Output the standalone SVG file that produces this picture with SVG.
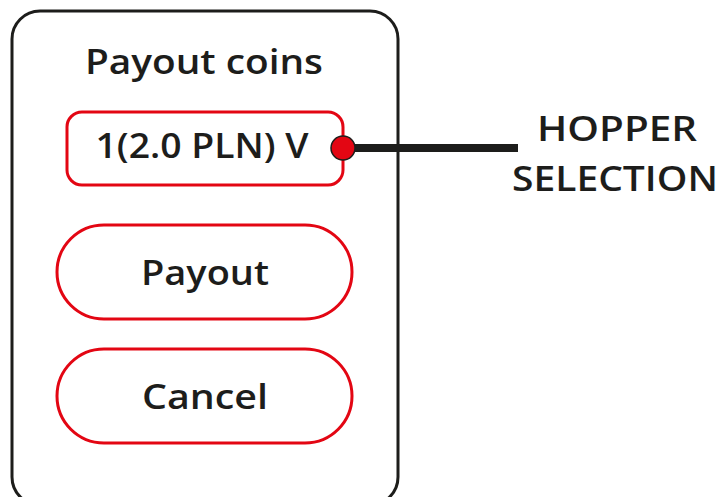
<svg xmlns="http://www.w3.org/2000/svg" width="724" height="497" viewBox="0 0 724 497">
<style>
.t{font-family:"Open Sans","Liberation Sans",sans-serif;font-weight:600;fill:#1d1d1b;font-size:34px;text-anchor:middle}
.red{fill:#fff;stroke:#e30613;stroke-width:3}
</style>
<rect width="724" height="497" fill="#fff"/>
<g id="panel">
<rect x="12" y="11" width="386" height="494" rx="28" fill="#fff" stroke="#1d1d1b" stroke-width="3"/>
<text class="t" x="204" y="74" textLength="238" lengthAdjust="spacingAndGlyphs">Payout coins</text>
</g>
<g id="dropdown">
<rect class="red" x="67" y="112" width="276" height="73" rx="15"/>
<text class="t" x="202" y="158" textLength="213" lengthAdjust="spacingAndGlyphs">1(2.0 PLN) V</text>
</g>
<g id="payout">
<rect class="red" x="57" y="225" width="295" height="94" rx="47"/>
<text class="t" x="205" y="285" textLength="128" lengthAdjust="spacingAndGlyphs">Payout</text>
</g>
<g id="cancel">
<rect class="red" x="57" y="349" width="295" height="94" rx="47"/>
<text class="t" x="205" y="409" textLength="126" lengthAdjust="spacingAndGlyphs">Cancel</text>
</g>
<g id="connectors">
<line x1="343" y1="148" x2="518" y2="148" stroke="#1d1d1b" stroke-width="8"/>
<circle cx="343" cy="148" r="12" fill="#e30613" stroke="#1d1d1b" stroke-width="1.5"/>
</g>
<g id="label">
<text class="t" x="617" y="141" textLength="160" lengthAdjust="spacingAndGlyphs">HOPPER</text>
<text class="t" x="615" y="191" textLength="206" lengthAdjust="spacingAndGlyphs">SELECTION</text>
</g>
</svg>
